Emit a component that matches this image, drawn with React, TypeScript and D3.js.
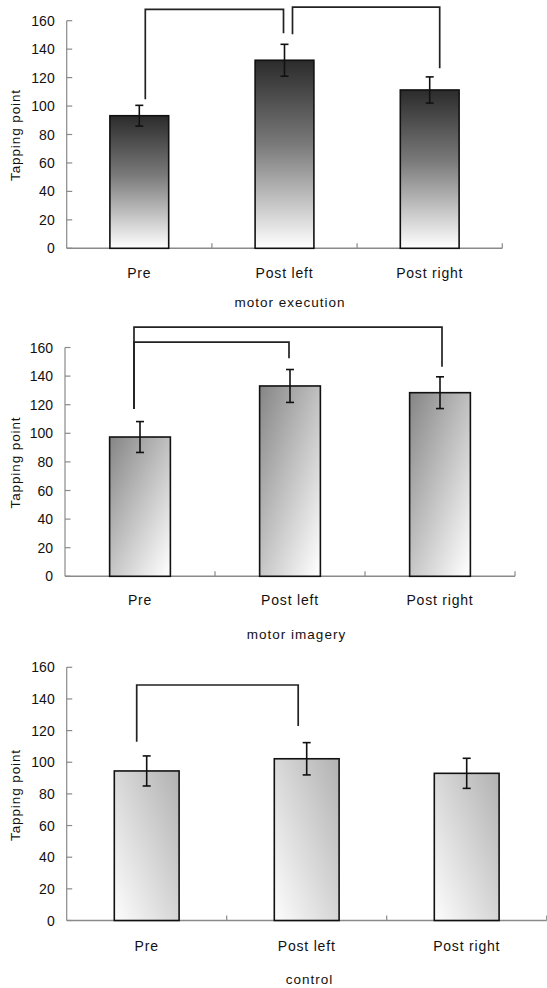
import React, { useRef, useEffect } from 'react';
import * as d3 from 'd3';

// data
const categories = ['Pre', 'Post left', 'Post right'];
const yTicks = [0, 20, 40, 60, 80, 100, 120, 140, 160];

const executionMeans = [93.2, 132.2, 111.3];
const executionErrors = [7.3, 11.2, 9.2];

const imageryMeans = [97.4, 133.1, 128.4];
const imageryErrors = [10.8, 11.5, 11.1];

const controlMeans = [94.5, 102.2, 93.0];
const controlErrors = [9.5, 10.2, 9.5];

// significance brackets: from/to category, level of the bar and of each leg end
const executionBrackets = [
  { from: 0, to: 1, level: 168, fromEnd: 104.7, toEnd: 151.1 },
  { from: 1, to: 2, level: 169.6, fromEnd: 150.4, toEnd: 126.5 },
];
const imageryBrackets = [
  { from: 0, to: 2, level: 174.3, fromEnd: 117, toEnd: 146.6 },
  { from: 0, to: 1, level: 163.8, fromEnd: 117, toEnd: 152.4 },
];
const controlBrackets = [
  { from: 0, to: 1, level: 148.8, fromEnd: 113, toEnd: 122.9 },
];

const FONT = '"Liberation Sans", Arial, sans-serif';

const panels = [
  {
    id: 'exec', title: 'motor execution',
    means: executionMeans, errors: executionErrors, brackets: executionBrackets,
    x0: 66.7, x1: 502.3, yBottom: 248.3, yTop: 20.7,
    catY: 272.7, titleX: 290, titleY: 302.3, yTitleY: 135,
    legOffsets: [[6, -1], [8, 10]],
    fill: 'vertical',
  },
  {
    id: 'imag', title: 'motor imagery',
    means: imageryMeans, errors: imageryErrors, brackets: imageryBrackets,
    x0: 65, x1: 515, yBottom: 576.3, yTop: 347.5,
    catY: 600, titleX: 296.5, titleY: 634.3, yTitleY: 462.5,
    legOffsets: [[-6, 2], [-6, -1]],
    fill: 'diagonal',
  },
  {
    id: 'ctrl', title: 'control',
    means: controlMeans, errors: controlErrors, brackets: controlBrackets,
    x0: 66.7, x1: 546.7, yBottom: 920.5, yTop: 667.3,
    catY: 945.7, titleX: 309.5, titleY: 979.3, yTitleY: 795,
    legOffsets: [[-10, -8.5]],
    fill: 'light',
  },
];

function App() {
  const ref = useRef(null);

  useEffect(() => {
    const svg = d3.select(ref.current);
    svg.selectAll('*').remove();

    const defs = svg.append('defs');

    const vert = defs.append('linearGradient').attr('id', 'g-vertical')
      .attr('x1', 0).attr('y1', 0).attr('x2', 0).attr('y2', 1);
    vert.append('stop').attr('offset', '0%').attr('stop-color', '#2b2b2b');
    vert.append('stop').attr('offset', '45%').attr('stop-color', '#7a7a7a');
    vert.append('stop').attr('offset', '100%').attr('stop-color', '#ffffff');

    const diag = defs.append('linearGradient').attr('id', 'g-diagonal')
      .attr('x1', 0).attr('y1', 0).attr('x2', 0.9).attr('y2', 1);
    diag.append('stop').attr('offset', '0%').attr('stop-color', '#858585');
    diag.append('stop').attr('offset', '100%').attr('stop-color', '#fbfbfb');

    const light = defs.append('linearGradient').attr('id', 'g-light')
      .attr('x1', 0).attr('y1', 1).attr('x2', 1).attr('y2', 0.1);
    light.append('stop').attr('offset', '0%').attr('stop-color', '#fdfdfd');
    light.append('stop').attr('offset', '100%').attr('stop-color', '#b5b5b5');

    panels.forEach(p => {
      const g = svg.append('g');

      const x = d3.scaleBand().domain(categories).range([p.x0, p.x1]).padding(0);
      const y = d3.scaleLinear().domain([0, 160]).range([p.yBottom, p.yTop]);
      const barW = x.bandwidth() * 0.405;
      const cx = i => x(categories[i]) + x.bandwidth() / 2;

      // y axis
      g.append('line')
        .attr('x1', p.x0).attr('x2', p.x0)
        .attr('y1', y(0)).attr('y2', y(160))
        .attr('stroke', '#8a8a8a').attr('stroke-width', 1.2);
      g.selectAll('.ytick').data(yTicks).enter().append('line')
        .attr('x1', p.x0).attr('x2', p.x0 + 5.5)
        .attr('y1', d => y(d)).attr('y2', d => y(d))
        .attr('stroke', '#8a8a8a').attr('stroke-width', 1.2);
      g.selectAll('.ylab').data(yTicks).enter().append('text')
        .attr('x', p.x0 - 12).attr('y', d => y(d)).attr('dy', '0.36em')
        .attr('text-anchor', 'end')
        .style('font-family', FONT).style('font-size', '14px')
        .attr('fill', '#111')
        .text(d => d);

      // x axis
      g.append('line')
        .attr('x1', p.x0).attr('x2', p.x1)
        .attr('y1', y(0)).attr('y2', y(0))
        .attr('stroke', '#8a8a8a').attr('stroke-width', 1.4);
      g.selectAll('.xtick').data(categories).enter().append('line')
        .attr('x1', d => x(d) + x.bandwidth()).attr('x2', d => x(d) + x.bandwidth())
        .attr('y1', y(0)).attr('y2', y(0) - 5)
        .attr('stroke', '#8a8a8a').attr('stroke-width', 1.2);

      // bars
      g.selectAll('.bar').data(p.means).enter().append('rect')
        .attr('x', (d, i) => cx(i) - barW / 2)
        .attr('y', d => y(d))
        .attr('width', barW)
        .attr('height', d => y(0) - y(d))
        .attr('fill', `url(#g-${p.fill})`)
        .attr('stroke', '#111').attr('stroke-width', 1.6);

      // error bars
      p.means.forEach((m, i) => {
        const e = p.errors[i];
        const eg = g.append('g').attr('stroke', '#111').attr('stroke-width', 1.6);
        eg.append('line').attr('x1', cx(i)).attr('x2', cx(i)).attr('y1', y(m + e)).attr('y2', y(m - e));
        eg.append('line').attr('x1', cx(i) - 4).attr('x2', cx(i) + 4).attr('y1', y(m + e)).attr('y2', y(m + e));
        eg.append('line').attr('x1', cx(i) - 4).attr('x2', cx(i) + 4).attr('y1', y(m - e)).attr('y2', y(m - e));
      });

      // brackets
      p.brackets.forEach((b, k) => {
        const [o1, o2] = p.legOffsets[k];
        const xa = cx(b.from) + o1;
        const xb = cx(b.to) + o2;
        const path = d3.path();
        path.moveTo(xa, y(b.fromEnd));
        path.lineTo(xa, y(b.level));
        path.lineTo(xb, y(b.level));
        path.lineTo(xb, y(b.toEnd));
        g.append('path').attr('d', path.toString())
          .attr('fill', 'none').attr('stroke', '#222').attr('stroke-width', 1.7);
      });

      // category labels
      g.selectAll('.xlab').data(categories).enter().append('text')
        .attr('x', (d, i) => cx(i)).attr('y', p.catY).attr('dy', '0.36em')
        .attr('text-anchor', 'middle')
        .style('font-family', FONT).style('font-size', '14px')
        .style('letter-spacing', '0.8px')
        .attr('fill', '#111')
        .text(d => d);

      // panel title
      g.append('text')
        .attr('x', p.titleX).attr('y', p.titleY).attr('dy', '0.36em')
        .attr('text-anchor', 'middle')
        .style('font-family', FONT).style('font-size', '13.5px')
        .style('letter-spacing', '1px')
        .attr('fill', '#111')
        .text(p.title);

      // y axis title
      g.append('text')
        .attr('transform', `translate(15,${p.yTitleY}) rotate(-90)`)
        .attr('dy', '0.36em')
        .attr('text-anchor', 'middle')
        .style('font-family', FONT).style('font-size', '13.5px')
        .style('letter-spacing', '0.9px')
        .attr('fill', '#111')
        .text('Tapping point');
    });
  }, []);

  return (
    <svg ref={ref} width={547} height={988}
      style={{ position: 'absolute', left: 0, top: 0, background: '#fff' }} />
  );
}

export default App;
